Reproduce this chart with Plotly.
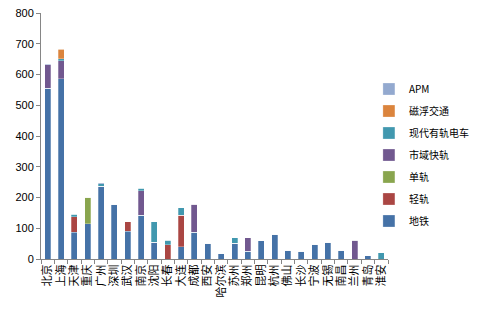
import plotly.graph_objects as go

cities = ["北京", "上海", "天津", "重庆", "广州", "深圳", "武汉", "南京", "沈阳", "长春",
          "大连", "成都", "西安", "哈尔滨", "苏州", "郑州", "昆明", "杭州", "佛山", "长沙",
          "宁波", "无锡", "南昌", "兰州", "青岛", "淮安"]

subway   = [555, 587, 87, 114, 237, 178, 90, 142, 54, 0, 40, 87, 51, 17, 51, 25, 59, 81, 28, 26, 48, 55, 29, 0, 11, 0]
light    = [0, 0, 50, 0, 0, 0, 31, 0, 0, 46, 102, 0, 0, 0, 0, 0, 0, 0, 0, 0, 0, 0, 0, 0, 0, 0]
monorail = [0, 0, 0, 87, 0, 0, 0, 0, 0, 0, 0, 0, 0, 0, 0, 0, 0, 0, 0, 0, 0, 0, 0, 0, 0, 0]
suburban = [76, 58, 0, 0, 0, 0, 0, 80, 0, 0, 0, 91, 0, 0, 0, 44, 0, 0, 0, 0, 0, 0, 0, 61, 0, 0]
tram     = [0, 6, 9, 0, 7, 0, 0, 8, 67, 15, 25, 0, 0, 0, 18, 0, 0, 0, 0, 0, 0, 0, 0, 0, 0, 20]
maglev   = [0, 31, 0, 0, 0, 0, 0, 0, 0, 0, 0, 0, 0, 0, 0, 0, 0, 0, 0, 0, 0, 0, 0, 0, 0, 0]
apm      = [2, 0, 0, 0, 4, 0, 0, 0, 0, 0, 0, 0, 0, 0, 0, 0, 0, 0, 0, 0, 0, 0, 0, 0, 0, 0]

series = [
    ("地铁", subway, "#4572A7"),
    ("轻轨", light, "#AA4643"),
    ("单轨", monorail, "#89A54E"),
    ("市域快轨", suburban, "#71588F"),
    ("现代有轨电车", tram, "#4198AF"),
    ("磁浮交通", maglev, "#DB843D"),
    ("APM", apm, "#93A9CF"),
]

fig = go.Figure()
for i, (name, vals, color) in enumerate(series):
    fig.add_trace(go.Bar(
        x=cities, y=vals, name=name, legendgroup=str(i), legendrank=100 - i,
        marker=dict(color=color, line=dict(width=0.6, color="rgba(255,255,255,0.45)")),
    ))

cjk = "Noto Sans CJK SC, sans-serif"
fig.update_layout(
    width=477, height=309,
    margin=dict(l=41, r=89, t=13, b=50, autoexpand=False),
    barmode="stack",
    bargap=0.55,
    plot_bgcolor="white",
    paper_bgcolor="white",
    font=dict(family="Liberation Sans, Noto Sans CJK SC, sans-serif", size=11, color="#000000"),
    legend=dict(
        x=0.945, y=0.75, xanchor="left", yanchor="top",
        traceorder="grouped", tracegroupgap=3,
        font=dict(size=10, family=cjk),
        itemwidth=30,
        bgcolor="rgba(0,0,0,0)",
    ),
    xaxis=dict(
        tickmode="array", tickvals=cities, ticktext=cities,
        showline=True, linecolor="#868686", linewidth=1,
        ticks="outside", ticklen=4, tickcolor="#868686", tickson="boundaries",
        tickangle=-90, tickfont=dict(size=11, family=cjk),
        showgrid=False,
    ),
    yaxis=dict(
        range=[0, 800], dtick=100,
        showline=True, linecolor="#868686", linewidth=1,
        ticks="outside", ticklen=4, tickcolor="#868686",
        showgrid=False, zeroline=False,
        tickfont=dict(size=11),
    ),
)

fig.write_html("out.html")
